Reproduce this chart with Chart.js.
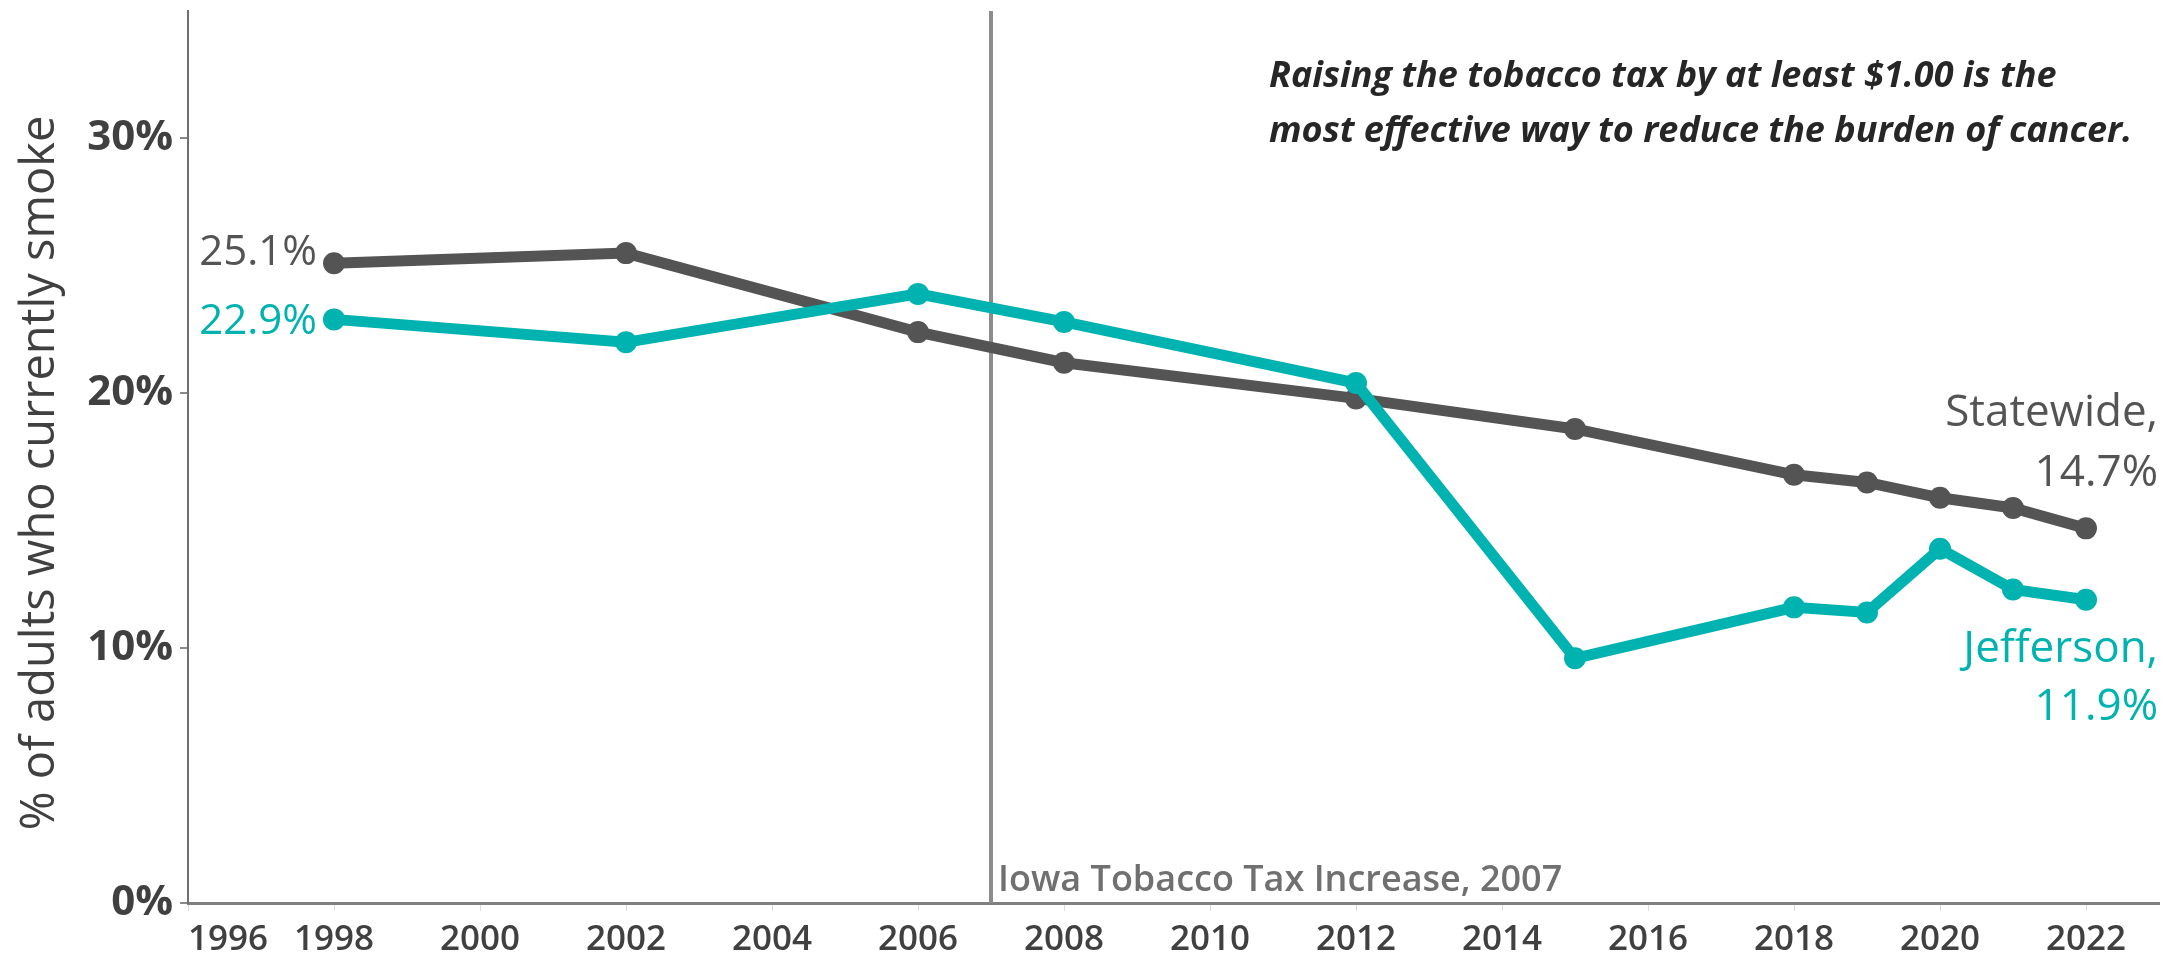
<!DOCTYPE html>
<html>
<head>
<meta charset="utf-8">
<script src="https://cdn.jsdelivr.net/npm/chart.js@4.4.1/dist/chart.umd.min.js"></script>
<style>
  html, body { margin: 0; padding: 0; background: #fff; }
  #wrap { width: 2170px; height: 960px; position: relative; }
</style>
</head>
<body>
<div id="wrap"><canvas id="smokeChart"></canvas></div>
<script>
// survey years and % of adults who currently smoke
const years = [1998, 2002, 2006, 2008, 2012, 2015, 2018, 2019, 2020, 2021, 2022];
const statewide = [25.1, 25.5, 22.4, 21.2, 19.8, 18.6, 16.8, 16.5, 15.9, 15.5, 14.7];
const jefferson = [22.9, 22.0, 23.9, 22.8, 20.4, 9.6, 11.6, 11.4, 13.9, 12.3, 11.9];

const yearTicks = [1996, 1998, 2000, 2002, 2004, 2006, 2008, 2010, 2012, 2014, 2016, 2018, 2020, 2022];
const pctTicks = [0, 10, 20, 30];

const yTitle = '% of adults who currently smoke';
const taxYear = 2007;
const taxLabel = 'Iowa Tobacco Tax Increase, 2007';
const noteLines = ['Raising the tobacco tax by at least $1.00 is the', 'most effective way to reduce the burden of cancer.'];

const grey = '#545454';
const teal = '#00b2b0';
const fontFamily = "'Open Sans', 'Noto Sans', sans-serif";

function toPoints(vals) {
    return years.map((yr, i) => ({ x: yr, y: vals[i] }));
}

// vertical line for the tax increase + all the text labels
const annotations = {
    id: 'annotations',
    beforeDatasetsDraw(chart) {
        const { ctx, chartArea, scales: { x } } = chart;
        const px = x.getPixelForValue(taxYear);
        ctx.save();
        ctx.strokeStyle = '#8c8c8c';
        ctx.lineWidth = 4;
        ctx.beginPath();
        ctx.moveTo(px, chartArea.top);
        ctx.lineTo(px, chartArea.bottom);
        ctx.stroke();

        ctx.fillStyle = '#707070';
        ctx.font = '600 36px ' + fontFamily;
        ctx.textAlign = 'left';
        ctx.textBaseline = 'alphabetic';
        ctx.fillText(taxLabel, px + 7, chartArea.bottom - 12);

        // y axis title (drawn here so it can sit a bit lower than the scale centre)
        ctx.translate(41, 473);
        ctx.rotate(-Math.PI / 2);
        ctx.font = '47px ' + fontFamily;
        ctx.fillStyle = '#404040';
        ctx.textAlign = 'center';
        ctx.textBaseline = 'middle';
        ctx.fillText(yTitle, 0, 0);
        ctx.restore();
    },
    afterDatasetsDraw(chart) {
        const { ctx, scales: { x, y } } = chart;
        const last = years.length - 1;
        ctx.save();

        // start values
        ctx.font = '42px ' + fontFamily;
        ctx.textAlign = 'right';
        ctx.textBaseline = 'middle';
        const x0 = x.getPixelForValue(years[0]) - 17;
        ctx.fillStyle = grey;
        ctx.fillText(statewide[0].toFixed(1) + '%', x0, y.getPixelForValue(statewide[0]) - 10);
        ctx.fillStyle = teal;
        ctx.fillText(jefferson[0].toFixed(1) + '%', x0, y.getPixelForValue(jefferson[0]) + 3);

        // end labels
        ctx.font = '44px ' + fontFamily;
        ctx.textBaseline = 'alphabetic';
        const xr = 2158;
        const ys = y.getPixelForValue(statewide[last]);
        ctx.fillStyle = grey;
        ctx.fillText('Statewide,', xr, ys - 102);
        ctx.fillText(statewide[last].toFixed(1) + '%', xr, ys - 42);
        const yj = y.getPixelForValue(jefferson[last]);
        ctx.fillStyle = teal;
        ctx.fillText('Jefferson,', xr, yj + 62);
        ctx.fillText(jefferson[last].toFixed(1) + '%', xr, yj + 120);

        // note at the top
        ctx.font = 'italic 700 36px ' + fontFamily;
        ctx.fillStyle = '#262626';
        ctx.textAlign = 'left';
        ctx.fillText(noteLines[0], 1269, 87);
        ctx.fillText(noteLines[1], 1269, 142);
        ctx.restore();
    }
};

new Chart(document.getElementById('smokeChart'), {
    type: 'line',
    data: {
        datasets: [
            {
                label: 'Jefferson',
                data: toPoints(jefferson),
                borderColor: teal,
                backgroundColor: teal,
                borderWidth: 11,
                pointRadius: 11,
                pointBorderWidth: 0,
                tension: 0
            },
            {
                label: 'Statewide',
                data: toPoints(statewide),
                borderColor: grey,
                backgroundColor: grey,
                borderWidth: 11,
                pointRadius: 11,
                pointBorderWidth: 0,
                tension: 0
            }
        ]
    },
    options: {
        responsive: true,
        maintainAspectRatio: false,
        animation: false,
        devicePixelRatio: 1,
        layout: { padding: { top: 11, right: 4, left: 0, bottom: 0 } },
        plugins: {
            legend: { display: false },
            tooltip: { enabled: false }
        },
        scales: {
            x: {
                type: 'linear',
                min: 1996,
                max: 2023,
                afterBuildTicks: s => { s.ticks = yearTicks.concat([2023]).map(v => ({ value: v })); },
                afterFit: s => { s.height = 57; s.paddingLeft = 0; s.paddingRight = 0; },
                ticks: {
                    autoSkip: false,
                    maxRotation: 0,
                    align: 'inner',
                    padding: 8,
                    color: '#404040',
                    font: { family: fontFamily, size: 35, weight: 600 },
                    callback: v => yearTicks.includes(v) ? String(v) : ''
                },
                grid: {
                    drawOnChartArea: false,
                    tickLength: 8,
                    color: c => (c.tick && c.tick.value === 2023) ? 'rgba(0,0,0,0)' : '#dcdcdc'
                },
                border: { color: '#7f7f7f', width: 3 }
            },
            y: {
                min: 0,
                max: 35,
                afterBuildTicks: s => { s.ticks = pctTicks.map(v => ({ value: v })); },
                afterFit: s => { s.width = 188; s.paddingTop = 0; s.paddingBottom = 0; },
                ticks: {
                    padding: 7,
                    color: '#404040',
                    font: { family: fontFamily, size: 42, weight: 700 },
                    callback: v => v + '%'
                },
                grid: {
                    drawOnChartArea: false,
                    tickLength: 8,
                    color: '#8a8a8a',
                    lineWidth: 2
                },
                border: { color: '#6f6f6f', width: 2 }
            }
        }
    },
    plugins: [annotations]
});
</script>
</body>
</html>
